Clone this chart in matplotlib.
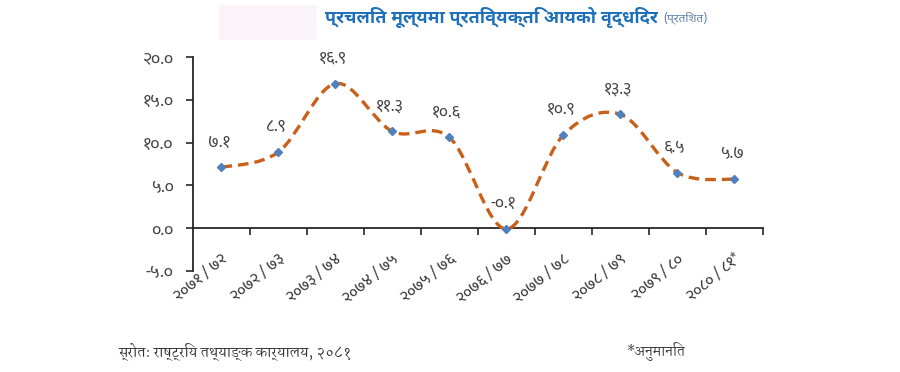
import matplotlib
matplotlib.use("Agg")
import matplotlib.pyplot as plt
from matplotlib import font_manager as fm
from matplotlib.path import Path
from matplotlib.patches import PathPatch, Rectangle
from matplotlib.transforms import offset_copy

# data (fiscal years in Nepali, per-capita income growth in %)
years = ["२०७१ / ७२", "२०७२ / ७३", "२०७३ / ७४", "२०७४ / ७५", "२०७५ / ७६",
         "२०७६ / ७७", "२०७७ / ७८", "२०७८ / ७९", "२०७९ / ८०", "२०८० / ८१*"]
growth = [7.1, 8.9, 16.9, 11.3, 10.6, -0.1, 10.9, 13.3, 6.5, 5.7]
point_labels = ["७.१", "८.९", "१६.९", "११.३", "१०.६", "-०.१", "१०.९", "१३.३", "६.५", "५.७"]
y_ticks = [-5, 0, 5, 10, 15, 20]
y_tick_labels = ["-५.०", "०.०", "५.०", "१०.०", "१५.०", "२०.०"]

title = "प्रचलित मूल्यमा प्रतिव्यक्ति आयको वृद्धिदर"
unit = "(प्रतिशत)"
source = "स्रोत: राष्ट्रिय तथ्याङ्क कार्यालय, २०८१"
note = "*अनुमानित"


def pick_font(names):
    have = {f.name for f in fm.fontManager.ttflist}
    for n in names:
        if n in have:
            return [n, "DejaVu Sans"]
    return ["DejaVu Sans"]


digit_font = pick_font(["Mukta", "Noto Sans Devanagari", "Poppins", "Kalam"])
title_font = pick_font(["Noto Sans Devanagari UI", "Noto Sans Devanagari", "Mukta", "Poppins"])
text_font = pick_font(["Martel", "Noto Serif Devanagari", "Mukta", "Poppins"])


def smooth_path(xs, ys):
    # Excel-like smoothed line: Catmull-Rom as cubic Bezier segments
    pts = list(zip(xs, ys))
    n = len(pts)
    verts = [pts[0]]
    codes = [Path.MOVETO]
    for i in range(n - 1):
        p0 = pts[i - 1] if i > 0 else pts[i]
        p1 = pts[i]
        p2 = pts[i + 1]
        p3 = pts[i + 2] if i + 2 < n else pts[i + 1]
        c1 = (p1[0] + (p2[0] - p0[0]) / 6, p1[1] + (p2[1] - p0[1]) / 6)
        c2 = (p2[0] - (p3[0] - p1[0]) / 6, p2[1] - (p3[1] - p1[1]) / 6)
        verts += [c1, c2, p2]
        codes += [Path.CURVE4] * 3
    return Path(verts, codes)


fig = plt.figure(figsize=(9, 3.72), dpi=100)
ax = fig.add_axes([0.2144, 0.2715, 0.6333, 0.5753])

x = list(range(len(years)))
ax.add_patch(PathPatch(smooth_path(x, growth), fill=False, edgecolor="#C9601A",
                       lw=2.4, linestyle=(0, (3.2, 1.8)), capstyle="butt", zorder=2))
ax.plot(x, growth, linestyle="none", marker="D", ms=4.2, color="#4F81BD", zorder=3)

for xi, yi, lab in zip(x, growth, point_labels):
    ax.annotate(lab, (xi, yi), xytext=(-2, 18), textcoords="offset points",
                ha="center", va="center", fontsize=12.5, color="#444444",
                family=digit_font)

ax.set_xlim(-0.5, len(years) - 0.5)
ax.set_ylim(-5, 20)

# y axis
ax.set_yticks(y_ticks)
ax.set_yticklabels(y_tick_labels, family=digit_font, fontsize=13, color="#444444")
ax.tick_params(axis="y", direction="out", length=5, width=1.2, color="#262626", pad=9)

# category labels, rotated, their ends sitting just above the axes bottom
ax.set_xticks([])
for xi, lab in zip(x, years):
    tr = offset_copy(ax.get_xaxis_transform(), fig=fig, x=4, y=14, units="dots")
    ax.text(xi, 0, lab, transform=tr, rotation=40, ha="right", va="center",
            rotation_mode="anchor", family=digit_font, fontsize=11.5, color="#303030")

for s in ["top", "right", "bottom"]:
    ax.spines[s].set_visible(False)
ax.spines["left"].set_color("#262626")
ax.spines["left"].set_linewidth(1.3)

# zero line with boundary tick marks
zero_ax = ax.secondary_xaxis(5 / 25)
zero_ax.set_xticks([i + 0.5 for i in x])
zero_ax.set_xticklabels([])
zero_ax.tick_params(direction="out", length=5, width=1.2, color="#262626")
zero_ax.spines["bottom"].set_color("#262626")
zero_ax.spines["bottom"].set_linewidth(1.3)

# header and footer
fig.add_artist(Rectangle((219 / 900, 1 - 40 / 372), 98 / 900, 35 / 372,
                         transform=fig.transFigure, facecolor="#FBF4FB",
                         edgecolor="none", zorder=0))
t = fig.text(325 / 900, 1 - 18 / 372, title, ha="left", va="center", fontsize=13,
             fontweight="bold", color="#1C6FB8", family=title_font)
fig.canvas.draw()
bb = t.get_window_extent()
fig.text(bb.x1 / 900 + 6 / 900, 1 - 18 / 372, unit, ha="left", va="center", fontsize=8.5,
         color="#5A7FA8", family=title_font)
fig.text(118 / 900, 1 - 352 / 372, source, ha="left", va="center", fontsize=10,
         color="#333333", family=text_font)
fig.text(626 / 900, 1 - 352 / 372, note, ha="left", va="center", fontsize=9.5,
         color="#333333", family=text_font)

fig.savefig("out.png", dpi=100)
